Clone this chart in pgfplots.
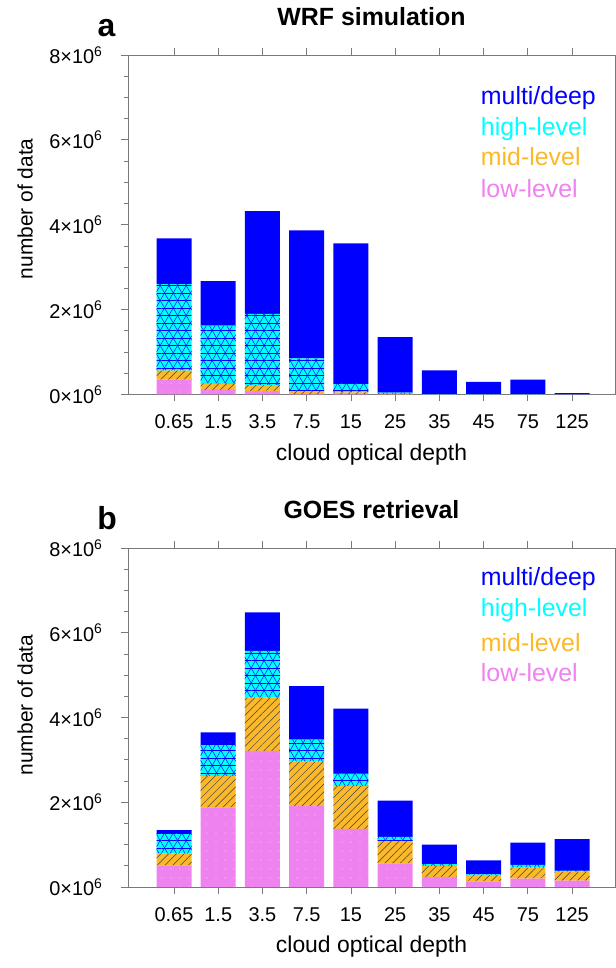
\documentclass[border=0pt]{standalone}
\usepackage{pgfplots}
\pgfplotsset{compat=1.18}
\usepackage{fontspec}
\setmainfont{Liberation Sans}
\usetikzlibrary{patterns.meta}
\definecolor{cblue}{HTML}{0000FF}
\definecolor{ccyan}{HTML}{00FFFF}
\definecolor{corange}{HTML}{FBB829}
\definecolor{cviolet}{HTML}{EE82EE}
\definecolor{axgray}{HTML}{7A7A7A}

\pgfplotsset{
  panel/.style={
    scale only axis, width=487bp,
    xmin=-1.04, xmax=9.97, ymin=0, ymax=8,
    ybar stacked, bar width=35bp,
    xtick={0,...,9},
    xticklabels={0.65,1.5,3.5,7.5,15,25,35,45,75,125},
    ytick={0,2,4,6,8},
    yticklabels={0×10\textsuperscript{6},2×10\textsuperscript{6},4×10\textsuperscript{6},6×10\textsuperscript{6},8×10\textsuperscript{6}},
    minor y tick num=3,
    tick align=outside, xtick pos=both, ytick pos=left,
    major tick length=7bp, minor tick length=4bp,
    axis line style={axgray, line width=0.8bp},
    every tick/.style={axgray, line width=0.8bp},
    ticklabel style={font=\fontsize{20}{24}\selectfont, text=black},
    xticklabel style={yshift=-10bp},
    yticklabel style={xshift=-15bp},
    xlabel={cloud optical depth},
    ylabel={number of data},
    xlabel style={font=\fontsize{23}{27}\selectfont, at={(axis description cs:0.5,0)}, anchor=center, yshift=-60bp},
  },
  low/.style={fill=cviolet, draw=none,
    postaction={pattern={Dots[distance=9bp,radius=0.6bp]}, pattern color=white!55!cviolet}},
  mid/.style={fill=corange, draw=none,
    postaction={pattern={Lines[angle=45,distance=5.5bp,line width=0.5bp]}, pattern color=black!75}},
  high/.style={fill=ccyan, draw=none,
    postaction={pattern={Lines[angle=0,distance=7.5bp,line width=0.45bp]}, pattern color=cblue},
    postaction={pattern={Lines[angle=60,distance=7.5bp,line width=0.45bp]}, pattern color=cblue},
    postaction={pattern={Lines[angle=120,distance=7.5bp,line width=0.45bp]}, pattern color=cblue}},
  deep/.style={fill=cblue, draw=none},
}

\begin{document}
\begin{tikzpicture}
% ---------------- panel a ----------------
\begin{axis}[panel, height=339.5bp, at={(128bp,573.5bp)}, anchor=south west,
  ylabel style={font=\fontsize{21}{25}\selectfont, at={(axis description cs:-0.211,0.547)}, anchor=center}]
\addplot[low]  coordinates {(0,0.35) (1,0.11) (2,0.08) (3,0.01) (4,0.01) (5,0.005) (6,0.002) (7,0.002) (8,0.002) (9,0.001)};
\addplot[mid]  coordinates {(0,0.21) (1,0.15) (2,0.14) (3,0.07) (4,0.04) (5,0.01) (6,0.003) (7,0.002) (8,0.002) (9,0.001)};
\addplot[high] coordinates {(0,2.04) (1,1.36) (2,1.68) (3,0.77) (4,0.22) (5,0.03) (6,0.005) (7,0.004) (8,0.004) (9,0.001)};
\addplot[deep] coordinates {(0,1.08) (1,1.05) (2,2.42) (3,3.02) (4,3.29) (5,1.305) (6,0.56) (7,0.292) (8,0.342) (9,0.032)};
\end{axis}
% ---------------- panel b ----------------
\begin{axis}[panel, height=339bp, at={(128bp,81bp)}, anchor=south west,
  ylabel style={font=\fontsize{21}{25}\selectfont, at={(axis description cs:-0.211,0.537)}, anchor=center}]
\addplot[low]  coordinates {(0,0.51) (1,1.88) (2,3.21) (3,1.91) (4,1.37) (5,0.56) (6,0.24) (7,0.13) (8,0.20) (9,0.15)};
\addplot[mid]  coordinates {(0,0.28) (1,0.74) (2,1.26) (3,1.05) (4,1.01) (5,0.52) (6,0.26) (7,0.15) (8,0.26) (9,0.21)};
\addplot[high] coordinates {(0,0.48) (1,0.73) (2,1.10) (3,0.52) (4,0.30) (5,0.10) (6,0.04) (7,0.02) (8,0.06) (9,0.03)};
\addplot[deep] coordinates {(0,0.07) (1,0.30) (2,0.91) (3,1.26) (4,1.53) (5,0.86) (6,0.46) (7,0.33) (8,0.53) (9,0.74)};
\end{axis}
% titles and panel letters
\node[anchor=base, font=\fontsize{25}{30}\selectfont\bfseries, inner sep=0] at (371.5bp,942bp) {WRF simulation};
\node[anchor=base, font=\fontsize{25}{30}\selectfont\bfseries, inner sep=0] at (371.5bp,449bp) {GOES retrieval};
\node[anchor=base, font=\fontsize{32}{38}\selectfont\bfseries, inner sep=0] at (106.5bp,931.3bp) {a};
\node[anchor=base, font=\fontsize{32}{38}\selectfont\bfseries, inner sep=0] at (107bp,438bp) {b};
% legend texts
\begin{scope}[every node/.style={anchor=base west, inner sep=0, font=\fontsize{25}{30}\selectfont}]
\node[text=cblue]   at (480.7bp,863bp) {multi/deep};
\node[text=ccyan]   at (480.7bp,832bp) {high-level};
\node[text=corange] at (480.7bp,802bp) {mid-level};
\node[text=cviolet] at (480.7bp,770bp) {low-level};
\node[text=cblue]   at (480.7bp,382bp) {multi/deep};
\node[text=ccyan]   at (480.7bp,351bp) {high-level};
\node[text=corange] at (480.7bp,316bp) {mid-level};
\node[text=cviolet] at (480.7bp,286bp) {low-level};
\end{scope}
\pgfresetboundingbox
\path[use as bounding box] (0,0) rectangle (616bp,968bp);
\end{tikzpicture}
\end{document}
